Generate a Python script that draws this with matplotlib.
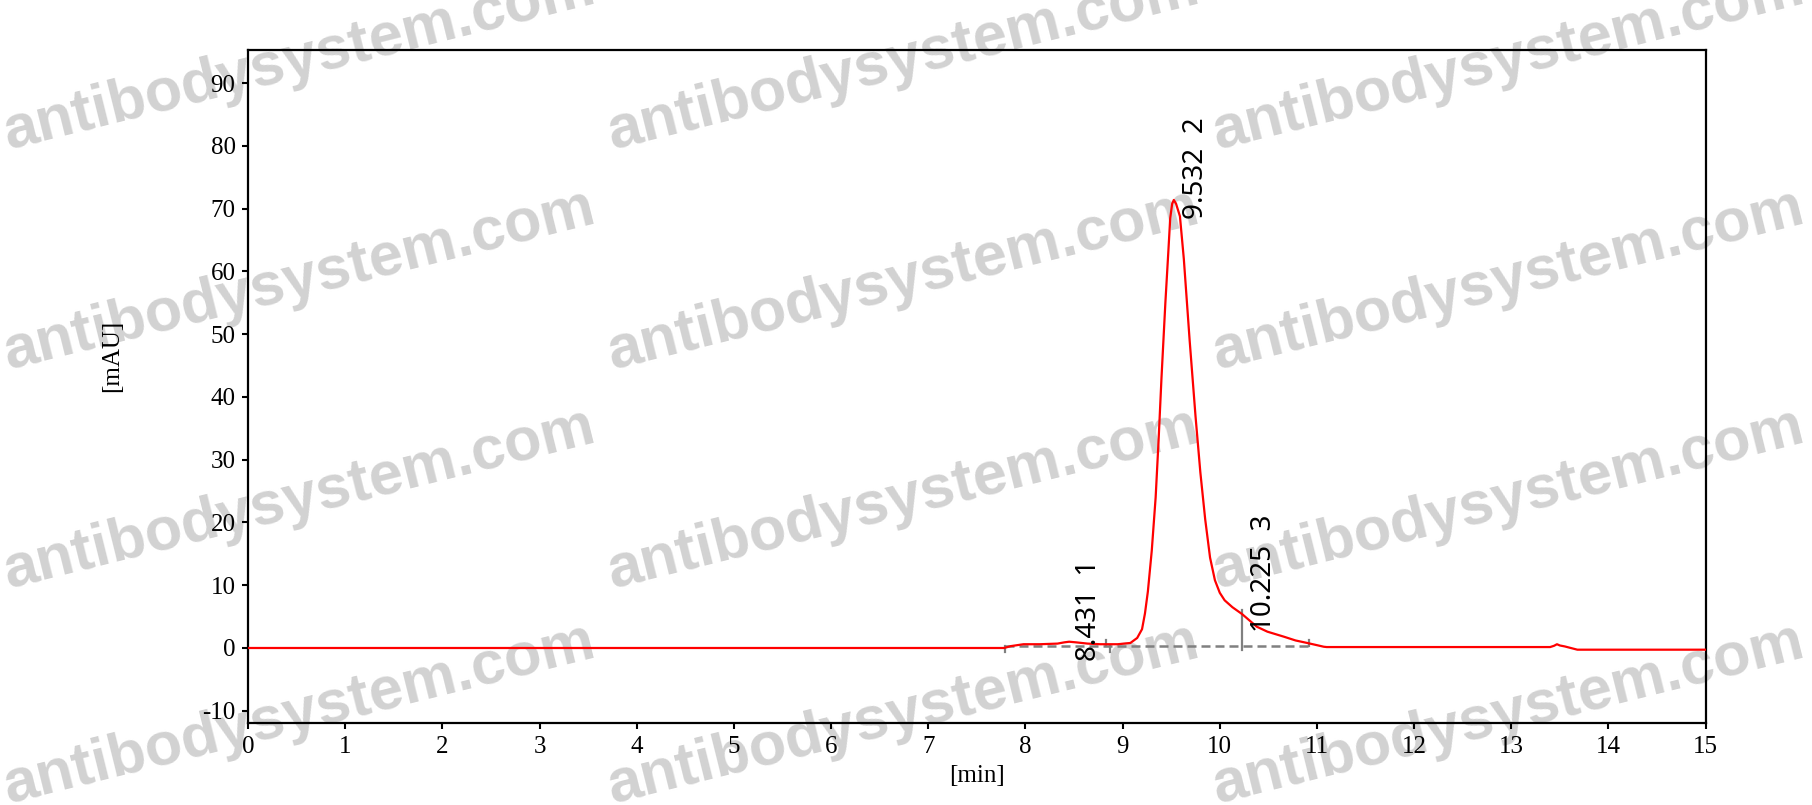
import matplotlib
matplotlib.use("Agg")
import matplotlib.pyplot as plt
import numpy as np

plt.rcParams["axes.unicode_minus"] = False

# chromatogram trace
t_min = [0, 7.78, 7.85, 7.98, 8.15, 8.33, 8.40, 8.45, 8.52, 8.64, 8.77, 8.95,
         9.08, 9.15, 9.20, 9.23, 9.26, 9.30, 9.34, 9.37, 9.40, 9.44, 9.47, 9.49,
         9.51, 9.527, 9.55, 9.59, 9.63, 9.69, 9.75, 9.80, 9.85, 9.90, 9.95, 10.0,
         10.05, 10.13, 10.23, 10.38, 10.49, 10.66, 10.78, 10.90, 11.0, 11.07, 11.10,
         13.40, 13.44, 13.47, 13.50, 13.55, 13.60, 13.68, 15.0]
mau = [0, 0, 0.3, 0.6, 0.6, 0.7, 0.9, 1.0, 0.9, 0.7, 0.6, 0.6,
       0.8, 1.6, 3.0, 5.5, 9.0, 15.5, 24.0, 33.0, 43.0, 55.0, 63.0, 68.5,
       70.8, 71.4, 70.8, 68.8, 62.0, 49.0, 37.0, 28.0, 20.5, 14.4, 10.8, 8.8,
       7.6, 6.5, 5.4, 3.4, 2.6, 1.8, 1.2, 0.8, 0.45, 0.2, 0.15,
       0.15, 0.35, 0.6, 0.4, 0.25, 0.05, -0.27, -0.27]

# integration info
peak_rt = [8.431, 9.532, 10.225]
peak_h = [1.0, 71.4, 5.5]
peak_no = [1, 2, 3]
base_level = 0.35
seg_start = [7.785, 8.875, 10.23]
seg_end = [8.825, 10.23, 10.915]
drop_rt = 10.23
drop_top = 6.0

fig = plt.figure(figsize=(18.12, 8.05), dpi=100)
ax = fig.add_axes([0.1369, 0.1015, 0.8044, 0.8364])
ax.patch.set_facecolor("none")

ax.plot(t_min, mau, color="#ff0000", lw=1.6, zorder=3)

# baseline segments + marks
gray = "#808080"
ax.plot([seg_start[0], seg_end[-1]], [base_level, base_level], color=gray,
        lw=1.8, ls=(0, (3.6, 2)), zorder=2)
for s in seg_start:
    if s == drop_rt:
        continue
    ax.plot([s, s], [base_level, base_level - 1.0], color=gray, lw=1.6, zorder=2)
for e in seg_end:
    if e == drop_rt:
        continue
    ax.plot([e, e], [base_level, base_level + 1.0], color=gray, lw=1.6, zorder=2)
ax.plot([drop_rt, drop_rt], [drop_top, base_level - 0.7], color=gray, lw=1.6, zorder=2)

for rt, h, n in zip(peak_rt, peak_h, peak_no):
    ax.annotate(f"{rt:.3f}  {n}", xy=(rt, h), xytext=(8, -19),
                textcoords="offset pixels", rotation=90, ha="left", va="bottom",
                fontsize=20, family="Noto Sans", color="black", zorder=4)

ax.set_xlim(0, 15)
ax.set_ylim(-12.0, 95.3)
ax.set_xticks(np.arange(0, 16, 1))
ax.set_yticks(np.arange(-10, 91, 10))
for lab in ax.get_xticklabels() + ax.get_yticklabels():
    lab.set_family("Liberation Serif")
    lab.set_fontsize(18)
ax.tick_params(direction="out", length=4, width=1.5, pad=5,
               top=False, right=False)
for sp in ax.spines.values():
    sp.set_linewidth(1.6)

ax.set_xlabel("[min]", family="Liberation Serif", fontsize=18, labelpad=5)
ax.set_ylabel("[mAU]", family="Liberation Serif", fontsize=18)
ax.yaxis.set_label_coords(-0.086, 0.545)

# watermark, under the plot
wm_x = [8, 612, 1217]
wm_y = [149, 369, 588, 803]
for wx in wm_x:
    for wy in wm_y:
        fig.text(wx / 1812, 1 - wy / 805, "antibodysystem.com", rotation=14,
                 rotation_mode="anchor", ha="left", va="baseline",
                 fontsize=44, family="Liberation Sans", weight="bold",
                 color="#d2d2d2", zorder=-1)

fig.savefig("out.png", dpi=100)
